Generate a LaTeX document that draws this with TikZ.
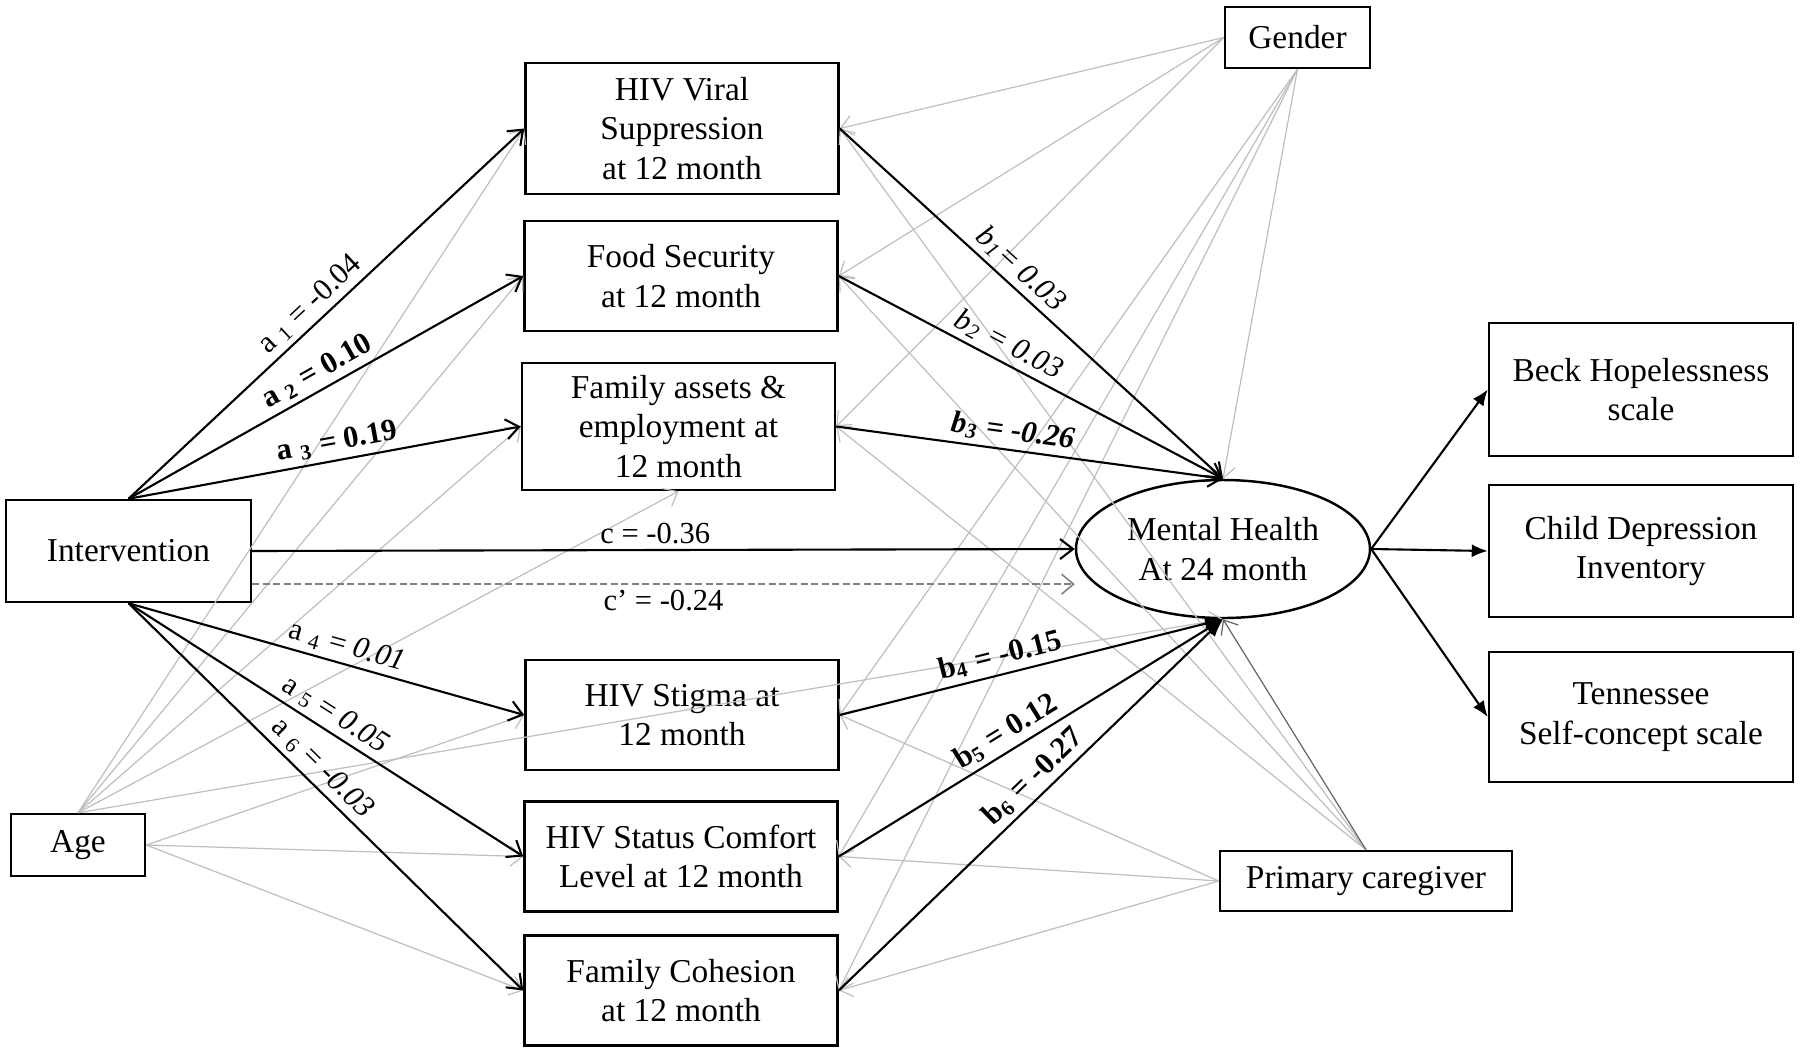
\documentclass[tikz,border=0pt]{standalone}
\usepackage{fontspec}
\setmainfont{Liberation Serif}
\usetikzlibrary{arrows.meta,shapes.geometric}

\begin{document}
\begin{tikzpicture}[
  box/.style={draw, line width=0.7pt, align=center, inner sep=1pt, font=\fontsize{9.5}{11.3}\selectfont},
  med/.style={box, minimum width=3.13cm, minimum height=1.10cm},
  outc/.style={box, minimum width=3.04cm, minimum height=1.32cm},
  apath/.style={line width=0.6pt, -{Straight Barb[length=1.3mm,width=2mm]}},
  bfill/.style={line width=0.6pt, -{Latex[length=1.8mm,width=1.4mm]}},
  ofill/.style={line width=0.6pt, -{Latex[length=1.6mm,width=1.3mm]}},
  ctrl/.style={draw=black!25, line width=0.35pt, -{Straight Barb[length=1.2mm,width=2mm]}},
  cdash/.style={draw=black!50, line width=0.45pt, dash pattern=on 2pt off 1pt, -{Straight Barb[length=1.2mm,width=2mm]}},
  lbl/.style={sloped, above, inner sep=1.5pt, font=\fontsize{8.7}{10}\selectfont}
]
\useasboundingbox (0,0) rectangle (18,-10.53);
\node[box, minimum width=2.45cm, minimum height=1.02cm] (int) at (1.285,-5.51) {Intervention};
\node[box, minimum width=1.34cm, minimum height=0.62cm] (age) at (0.78,-8.45) {Age};
\node[med, minimum height=1.31cm] (vir) at (6.82,-1.285) {HIV Viral\\Suppression\\at 12 month};
\node[med] (food) at (6.81,-2.76) {Food Security\\at 12 month};
\node[med, minimum height=1.27cm] (asset) at (6.785,-4.265) {Family assets \&\\employment at\\12 month};
\node[med] (stig) at (6.82,-7.15) {HIV Stigma at\\12 month};
\node[med] (comf) at (6.81,-8.565) {HIV Status Comfort\\Level at 12 month};
\node[med] (coh) at (6.81,-9.905) {Family Cohesion\\at 12 month};
\node[box, ellipse, inner sep=0pt, minimum width=2.94cm, minimum height=1.38cm] (mh) at (12.23,-5.49) {Mental Health\\At 24 month};
\node[box, minimum width=1.45cm, minimum height=0.61cm] (gen) at (12.975,-0.375) {Gender};
\node[box, minimum width=2.92cm, minimum height=0.60cm] (pc) at (13.66,-8.81) {Primary caregiver};
\node[outc, minimum height=1.33cm] (beck) at (16.41,-3.895) {Beck Hopelessness\\scale};
\node[outc] (cdi) at (16.41,-5.51) {Child Depression\\Inventory};
\node[outc, minimum height=1.30cm] (tsc) at (16.41,-7.17) {Tennessee\\Self-concept scale};

\draw[ctrl] (gen.west) -- (vir.east);
\draw[ctrl] (gen.west) -- (food.east);
\draw[ctrl] (gen.west) -- (asset.east);
\draw[ctrl] (gen.south) -- (stig.east);
\draw[ctrl] (gen.south) -- (comf.east);
\draw[ctrl] (gen.south) -- (coh.east);
\draw[ctrl] (gen.south) -- (mh.north);
\draw[ctrl] (age.north) -- (vir.west);
\draw[ctrl] (age.north) -- (food.west);
\draw[ctrl] (age.north) -- (asset.west);
\draw[ctrl] (age.north) -- (asset.south);
\draw[ctrl] (age.north) -- (mh.south);
\draw[ctrl] (age.east) -- (stig.west);
\draw[ctrl] (age.east) -- (comf.west);
\draw[ctrl] (age.east) -- (coh.west);
\draw[ctrl] (pc.north) -- (vir.east);
\draw[ctrl] (pc.north) -- (food.east);
\draw[ctrl] (pc.north) -- (asset.east);
\draw[ctrl, draw=black!60] (pc.north) -- (mh.south);
\draw[ctrl] (pc.west) -- (stig.east);
\draw[ctrl] (pc.west) -- (comf.east);
\draw[ctrl] (pc.west) -- (coh.east);

\draw[apath] (int.north) -- node[lbl, pos=0.49] {a \textsubscript{1} = -0.04} (vir.west);
\draw[apath] (int.north) -- node[lbl, pos=0.5] {\textbf{a \textsubscript{2} = 0.10}} (food.west);
\draw[apath] (int.north) -- node[lbl, pos=0.54] {\textbf{a \textsubscript{3} = 0.19}} (asset.west);
\draw[apath] (int.south) -- node[lbl, pos=0.54] {a \textsubscript{4} = \textit{0.01}} (stig.west);
\draw[apath] (int.south) -- node[lbl, pos=0.5] {a \textsubscript{5} = \textit{0.05}} (comf.west);
\draw[apath] (int.south) -- node[lbl, pos=0.46] {a \textsubscript{6} = \textit{-0.03}} (coh.west);
\draw[apath] (int.east) -- node[lbl, pos=0.49] {c = -0.36} (mh.west);
\draw[cdash] (int.-15) -- node[lbl, below, pos=0.5, text=black] {c’ = -0.24} (int.-15 -| mh.west);
\draw[apath] (vir.east) -- node[lbl, pos=0.44] {\textit{b\textsubscript{1}= 0.03}} (mh.north);
\draw[apath] (food.east) -- node[lbl, pos=0.42] {\textit{b\textsubscript{2} = 0.03}} (mh.north);
\draw[apath] (asset.east) -- node[lbl, pos=0.45] {\textbf{\textit{b\textsubscript{3} = -0.26}}} (mh.north);
\draw[bfill] (stig.east) -- node[lbl, pos=0.43] {\textbf{b\textsubscript{4} = -0.15}} (mh.south);
\draw[bfill] (comf.east) -- node[lbl, pos=0.46] {\textbf{b\textsubscript{5} = 0.12}} (mh.south);
\draw[bfill] (coh.east) -- node[lbl, pos=0.54] {\textbf{b\textsubscript{6} = -0.27}} (mh.south);
\draw[ofill] (mh.east) -- (beck.west);
\draw[ofill] (mh.east) -- (cdi.west);
\draw[ofill] (mh.east) -- (tsc.west);
\end{tikzpicture}
\end{document}
